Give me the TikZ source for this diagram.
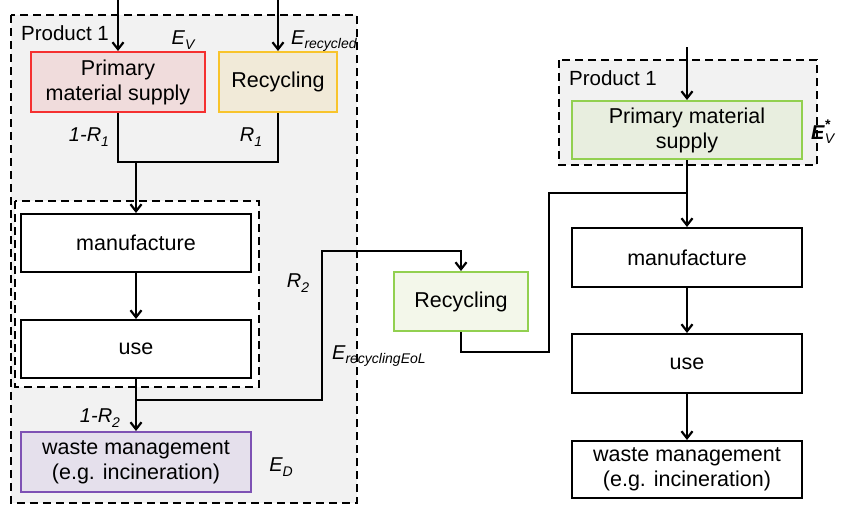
\documentclass[tikz,border=0pt]{standalone}
\usepackage{fontspec}
\setmainfont{Liberation Sans}
\usetikzlibrary{arrows.meta}

\definecolor{panelgrey}{HTML}{F2F2F2}
\definecolor{redline}{HTML}{F53030}
\definecolor{redfill}{HTML}{F0DCDC}
\definecolor{goldline}{HTML}{F8C42C}
\definecolor{goldfill}{HTML}{F1EAD8}
\definecolor{purpleline}{HTML}{7E52B4}
\definecolor{purplefill}{HTML}{E5E0EC}
\definecolor{greenline}{HTML}{92D050}
\definecolor{greenfill}{HTML}{E8EEDF}
\definecolor{greenlight}{HTML}{F3F7EA}

\newcommand\lowidx[1]{\raisebox{-0.45ex}{\fontsize{14}{14}\selectfont #1}}

\begin{document}
\begin{tikzpicture}[x=1pt,y=1pt,
  box/.style={draw=black, line width=2pt, fill=white, inner sep=0pt,
    align=center, font=\fontsize{21.5}{25}\selectfont},
  groupbox/.style={draw=black, line width=2.1pt, dash pattern=on 8pt off 5pt},
  flow/.style={line width=2.4pt},
  flowarrow/.style={flow, -{Straight Barb[length=7pt,width=11pt,line width=2.2pt]}},
  lab/.style={inner sep=0pt, font=\fontsize{20}{23}\selectfont\itshape},
  grouplab/.style={inner sep=0pt, font=\fontsize{20.5}{24}\selectfont}]

\useasboundingbox (0,0) rectangle (841,-506);

% product system on the left
\draw[groupbox, fill=panelgrey] (11,-15) rectangle (357,-503);
\draw[groupbox, fill=white] (15,-201) rectangle (259,-387);
\node[grouplab] (p1) at (65,-33) {Product 1};

\node[box, draw=redline, fill=redfill, minimum width=174pt, minimum height=60pt]
  (pms) at (118,-82) {Primary\\material supply};
\node[box, draw=goldline, fill=goldfill, minimum width=118pt, minimum height=60pt]
  (rec1) at (278,-82) {Recycling};
\node[box, minimum width=230pt, minimum height=58pt] (man) at (136,-243) {manufacture};
\node[box, minimum width=230pt, minimum height=58pt] (use) at (136,-349) {use};
\node[box, draw=purpleline, fill=purplefill, minimum width=230pt, minimum height=60pt]
  (waste) at (136,-462) {waste management\\(e.g. incineration)};

% end-of-life recycling between the two systems
\node[box, draw=greenline, fill=greenlight, minimum width=134pt, minimum height=59pt]
  (rec2) at (461,-301.5) {Recycling};

% product system on the right
\draw[groupbox, fill=panelgrey] (559,-60) rectangle (817,-165);
\node[grouplab] (p2) at (613,-78) {Product 1};
\node[box, draw=greenline, fill=greenfill, minimum width=230pt, minimum height=58pt]
  (pms2) at (687,-130) {Primary material\\supply};
\node[box, minimum width=230pt, minimum height=59pt] (man2) at (687,-257.5) {manufacture};
\node[box, minimum width=230pt, minimum height=59pt] (use2) at (687,-363.5) {use};
\node[box, minimum width=230pt, minimum height=57pt]
  (waste2) at (687,-469.5) {waste management\\(e.g. incineration)};

% labels
\node[lab] (ev) at (183,-40) {E\lowidx{V}};
\node[lab, anchor=west] (erec) at (291,-41) {E\lowidx{recycled}};
\node[lab] (r1a) at (89,-137) {1-R\lowidx{1}};
\node[lab] (r1b) at (251,-137) {R\lowidx{1}};
\node[lab] (r2) at (298,-283) {R\lowidx{2}};
\node[lab, anchor=west] (eeol) at (332,-356) {E\lowidx{recyclingEoL}};
\node[lab] (r2a) at (100,-418) {1-R\lowidx{2}};
\node[lab] (ed) at (281,-467) {E\lowidx{D}};
\node[lab, anchor=west, font=\fontsize{20}{23}\selectfont\bfseries\itshape] (evs) at (811,-132)
  {E\raisebox{0.9ex}{\fontsize{14}{14}\selectfont *}\hspace{-0.25em}\lowidx{\mdseries V}};

% connector end points
\coordinate (in1) at (118,0);
\coordinate (in2) at (278,0);
\coordinate (in3) at (687,-47);
\coordinate (j1) at (136,-162);
\coordinate (b2) at (136,-400);
\coordinate (c1) at (322,-400);
\coordinate (c2) at (322,-251);
\coordinate (c3) at (549,-352);
\coordinate (j2) at (687,-193);

% connectors, left system
\draw[flowarrow] (in1) -- (pms.north);
\draw[flowarrow] (in2) -- (rec1.north);
\draw[flow] (pms.south) |- (j1) -| (rec1.south);
\draw[flowarrow] (j1) -- (man.north);
\draw[flowarrow] (man.south) -- (use.north);
\draw[flowarrow] (use.south) -- (waste.north);
\draw[flowarrow] (b2) -- (c1) -- (c2) -| (rec2.north);

% connectors, recycled material into the right system
\draw[flow] (rec2.south) |- (c3) |- (j2);
\draw[flowarrow] (in3) -- (pms2.north);
\draw[flowarrow] (pms2.south) -- (man2.north);
\draw[flowarrow] (man2.south) -- (use2.north);
\draw[flowarrow] (use2.south) -- (waste2.north);

\end{tikzpicture}
\end{document}
